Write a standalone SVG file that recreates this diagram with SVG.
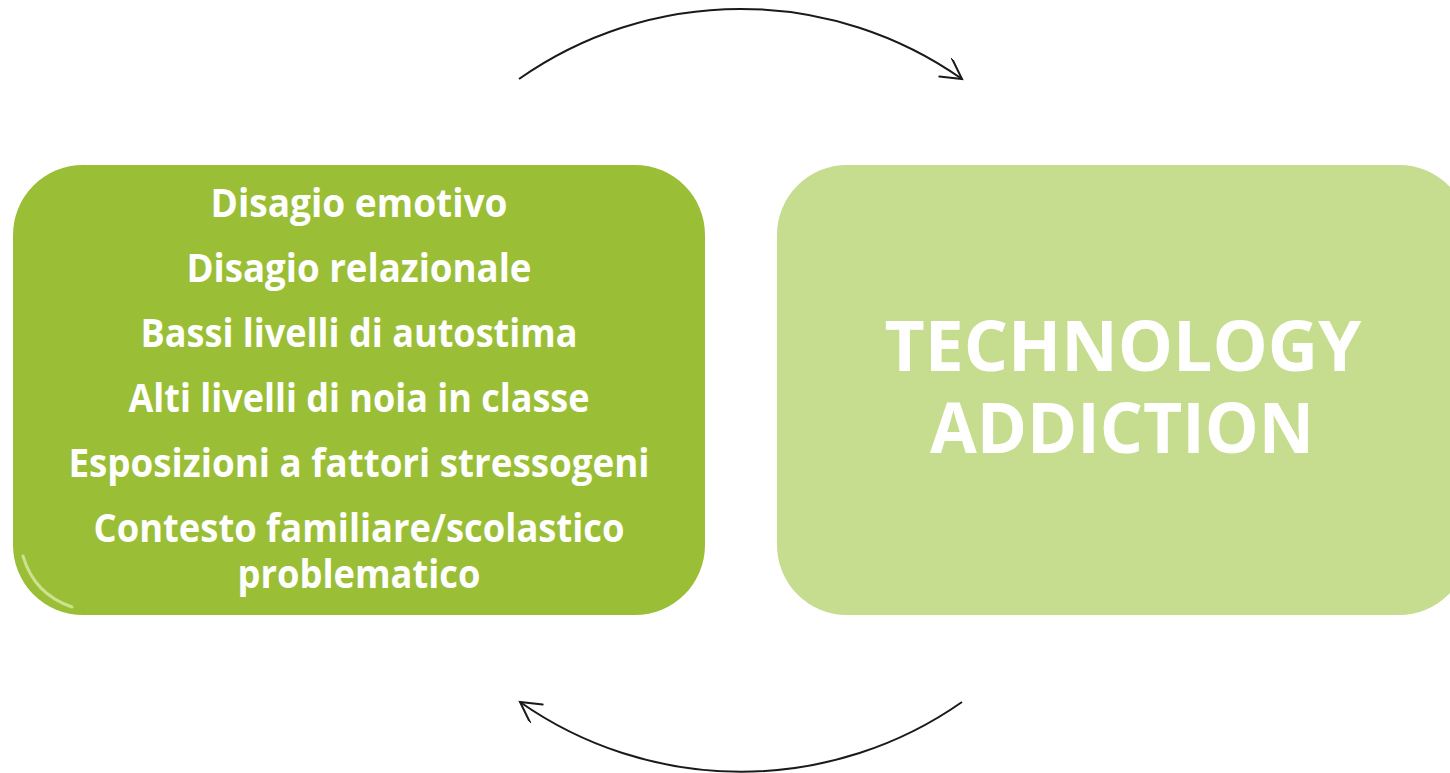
<svg xmlns="http://www.w3.org/2000/svg" width="1450" height="773" viewBox="0 0 1450 773">
  <defs>
    <marker id="arrow" markerUnits="userSpaceOnUse" markerWidth="30" markerHeight="30" refX="22" refY="11" orient="auto">
      <path d="M2,0 L22,11 L2,22" fill="none" stroke="#1a1a1a" stroke-width="2" stroke-linecap="round" stroke-linejoin="miter"/>
    </marker>
    <linearGradient id="hlgrad" x1="0" y1="0" x2="1" y2="0">
      <stop offset="0" stop-color="#f6ffd6" stop-opacity="0"/>
      <stop offset="0.15" stop-color="#f6ffd6" stop-opacity="0.85"/>
      <stop offset="0.85" stop-color="#f6ffd6" stop-opacity="0.85"/>
      <stop offset="1" stop-color="#f6ffd6" stop-opacity="0"/>
    </linearGradient>
    <style>
      .item { font-family: "Open Sans", "Liberation Sans", sans-serif; font-weight: bold; fill: #ffffff; text-anchor: middle; }
      .left-txt { font-size: 39px; }
      .big-txt { font-size: 70px; }
      .connector { fill: none; stroke: #1a1a1a; stroke-width: 2; marker-end: url(#arrow); }
      .hl { fill: none; stroke: url(#hlgrad); stroke-width: 3; stroke-linecap: round; }
      .hl2 { fill: none; stroke: #f6ffd6; stroke-width: 3; stroke-linecap: round; opacity: 0.55; }
    </style>
  </defs>

  <rect width="1450" height="773" fill="#ffffff"/>

  <g id="connectors">
    <path class="connector" d="M519,79 A385,385 0 0 1 962,79"/>
    <path class="connector" d="M962,702 A385,385 0 0 1 520,702"/>
  </g>

  <g id="node-fattori">
    <rect x="13" y="165" width="692" height="450" rx="70" ry="70" fill="#9bbe37"/>
    <path class="hl" d="M60,173 L670,173"/>
    <path class="hl2" d="M23,556 Q34,594 72,607"/>
    <text class="item left-txt" x="359" y="217" textLength="297" lengthAdjust="spacingAndGlyphs">Disagio emotivo</text>
    <text class="item left-txt" x="359" y="282" textLength="345" lengthAdjust="spacingAndGlyphs">Disagio relazionale</text>
    <text class="item left-txt" x="359" y="347" textLength="437" lengthAdjust="spacingAndGlyphs">Bassi livelli di autostima</text>
    <text class="item left-txt" x="359" y="412" textLength="461" lengthAdjust="spacingAndGlyphs">Alti livelli di noia in classe</text>
    <text class="item left-txt" x="359" y="477" textLength="581" lengthAdjust="spacingAndGlyphs">Esposizioni a fattori stressogeni</text>
    <text class="item left-txt" x="359" y="542" textLength="531" lengthAdjust="spacingAndGlyphs">Contesto familiare/scolastico</text>
    <text class="item left-txt" x="359" y="588" textLength="243" lengthAdjust="spacingAndGlyphs">problematico</text>
  </g>

  <g id="node-technology">
    <rect x="777" y="165" width="692" height="450" rx="70" ry="70" fill="#c6dc8f"/>
    <path class="hl" d="M824,173 L1434,173"/>
    <text class="item big-txt" x="1123" y="371" textLength="477" lengthAdjust="spacingAndGlyphs">TECHNOLOGY</text>
    <text class="item big-txt" x="1122" y="453" textLength="384" lengthAdjust="spacingAndGlyphs">ADDICTION</text>
  </g>
</svg>
